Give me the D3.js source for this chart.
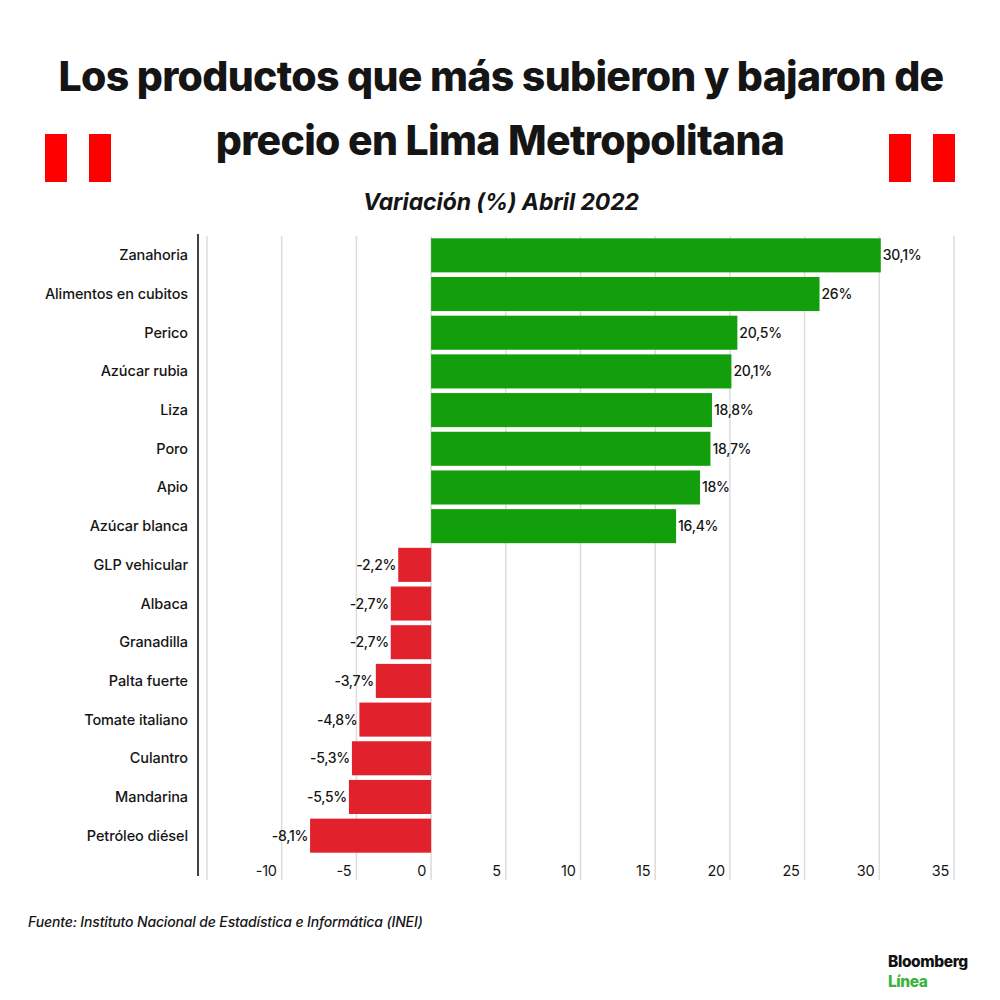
<!DOCTYPE html>
<html><head><meta charset="utf-8">
<script src="https://cdn.jsdelivr.net/npm/d3@7"></script>
<style>body{margin:0;background:#fff}svg{display:block}</style>
</head><body>
<svg id="c" width="1000" height="1000"></svg>
<script>
const categories = ["Zanahoria","Alimentos en cubitos","Perico","Azúcar rubia","Liza","Poro","Apio","Azúcar blanca","GLP vehicular","Albaca","Granadilla","Palta fuerte","Tomate italiano","Culantro","Mandarina","Petróleo diésel"];
const values = [30.1,26,20.5,20.1,18.8,18.7,18,16.4,-2.2,-2.7,-2.7,-3.7,-4.8,-5.3,-5.5,-8.1];
const valueLabels = ["30,1%","26%","20,5%","20,1%","18,8%","18,7%","18%","16,4%","-2,2%","-2,7%","-2,7%","-3,7%","-4,8%","-5,3%","-5,5%","-8,1%"];
const gridTicks = [-15,-10,-5,0,5,10,15,20,25,30,35];
const tickLabels = [-10,-5,0,5,10,15,20,25,30,35];

const svg = d3.select("#c");
const F = "Inter, 'Noto Sans', sans-serif";
const x = d3.scaleLinear().domain([-15,35]).range([207,954]);
const y = d3.scaleBand().domain(categories).range([236,855]).paddingInner(0.12).paddingOuter(0.06);

// title
svg.append("text").attr("x",501).attr("y",91).attr("text-anchor","middle")
  .attr("font-family",F).attr("font-weight",800).attr("font-size",41).attr("letter-spacing",-0.7).attr("fill","#151515")
  .text("Los productos que más subieron y bajaron de");
svg.append("text").attr("x",500).attr("y",155).attr("text-anchor","middle")
  .attr("font-family",F).attr("font-weight",800).attr("font-size",41).attr("letter-spacing",-0.7).attr("fill","#151515")
  .text("precio en Lima Metropolitana");
svg.append("text").attr("x",501).attr("y",210).attr("text-anchor","middle")
  .attr("font-family",F).attr("font-weight",700).attr("font-style","italic").attr("font-size",23).attr("letter-spacing",-0.1).attr("fill","#151515")
  .text("Variación (%) Abril 2022");

// flags
const flagX = [45,89,889,933];
svg.selectAll("rect.flag").data(flagX).join("rect").attr("class","flag")
  .attr("x",d=>d).attr("y",134).attr("width",22).attr("height",48).attr("fill","#ff0000");

// grid
svg.selectAll("line.grid").data(gridTicks).join("line").attr("class","grid")
  .attr("x1",d=>x(d)).attr("x2",d=>x(d)).attr("y1",236).attr("y2",880)
  .attr("stroke","#dcdcdc").attr("stroke-width",1.5);

// tick labels
svg.selectAll("text.tick").data(tickLabels).join("text").attr("class","tick")
  .attr("x",d=>x(d)-5).attr("y",876).attr("text-anchor","end")
  .attr("font-family",F).attr("font-size",14.5).attr("fill","#151515").attr("letter-spacing",-0.3)
  .text(d=>d);

// axis line
svg.append("line").attr("x1",198).attr("x2",198).attr("y1",234).attr("y2",876).attr("stroke","#111").attr("stroke-width",1.6);

// bars
const data = categories.map((c,i)=>({c,v:values[i],l:valueLabels[i]}));
svg.selectAll("rect.bar").data(data).join("rect").attr("class","bar")
  .attr("x",d=>x(Math.min(0,d.v))).attr("width",d=>Math.abs(x(d.v)-x(0)))
  .attr("y",d=>y(d.c)).attr("height",y.bandwidth())
  .attr("fill",d=>d.v>=0?"#129f0b":"#e1212b");

// value labels
svg.selectAll("text.val").data(data).join("text").attr("class","val")
  .attr("x",d=>d.v>=0?x(d.v)+2:x(d.v)-2).attr("y",d=>y(d.c)+y.bandwidth()/2+5)
  .attr("text-anchor",d=>d.v>=0?"start":"end")
  .attr("font-family",F).attr("font-weight",500).attr("font-size",14).attr("letter-spacing",-0.3).attr("fill","#151515")
  .text(d=>d.l);

// category labels
svg.selectAll("text.cat").data(categories).join("text").attr("class","cat")
  .attr("x",188).attr("y",d=>y(d)+y.bandwidth()/2+5).attr("text-anchor","end")
  .attr("font-family",F).attr("font-weight",500).attr("font-size",14.5).attr("letter-spacing",-0.1).attr("fill","#151515")
  .text(d=>d);

// footer
svg.append("text").attr("x",28).attr("y",927)
  .attr("font-family",F).attr("font-weight",500).attr("font-style","italic").attr("font-size",14).attr("letter-spacing",-0.15).attr("fill","#151515")
  .text("Fuente: Instituto Nacional de Estadística e Informática (INEI)");

// logo
svg.append("text").attr("x",888).attr("y",967)
  .attr("font-family",F).attr("font-weight",800).attr("font-size",15.5).attr("letter-spacing",-0.4).attr("fill","#111")
  .text("Bloomberg");
svg.append("text").attr("x",888).attr("y",987)
  .attr("font-family",F).attr("font-weight",800).attr("font-size",15.5).attr("letter-spacing",-0.4).attr("fill","#3cb43c")
  .text("Línea");
</script>
</body></html>
